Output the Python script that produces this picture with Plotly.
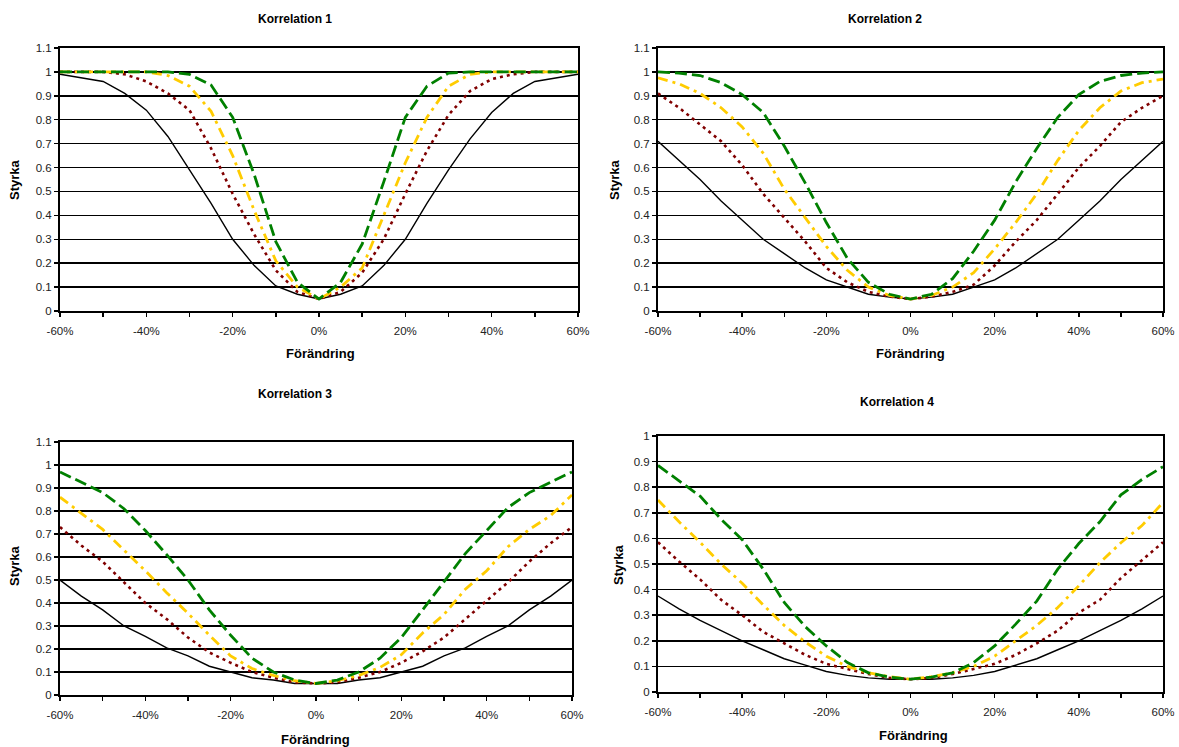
import plotly.graph_objects as go

# ---------------- data ----------------
x_change = [-60, -55, -50, -45, -40, -35, -30, -25, -20, -15, -10, -5, 0,
            5, 10, 15, 20, 25, 30, 35, 40, 45, 50, 55, 60]
x_tick_vals = [-60, -40, -20, 0, 20, 40, 60]
x_tick_text = ["-60%", "-40%", "-20%", "0%", "20%", "40%", "60%"]

panel_titles = ["Korrelation 1", "Korrelation 2", "Korrelation 3", "Korrelation 4"]
x_title = "Förändring"
y_title = "Styrka"

# Korrelation 1
k1_black = [0.99, 0.975, 0.96, 0.91, 0.84, 0.73, 0.59, 0.45, 0.30, 0.19, 0.105, 0.07, 0.05,
            0.07, 0.105, 0.19, 0.30, 0.45, 0.59, 0.72, 0.83, 0.91, 0.96, 0.975, 0.99]
k1_red = [1.0, 1.0, 1.0, 0.99, 0.96, 0.91, 0.84, 0.68, 0.49, 0.32, 0.17, 0.08, 0.05,
          0.08, 0.16, 0.30, 0.49, 0.67, 0.82, 0.92, 0.97, 0.99, 1.0, 1.0, 1.0]
k1_gold = [1.0, 1.0, 1.0, 1.0, 1.0, 0.985, 0.94, 0.835, 0.65, 0.42, 0.21, 0.10, 0.05,
           0.10, 0.18, 0.40, 0.62, 0.81, 0.94, 0.99, 1.0, 1.0, 1.0, 1.0, 1.0]
k1_green = [1.0, 1.0, 1.0, 1.0, 1.0, 1.0, 0.99, 0.945, 0.81, 0.57, 0.29, 0.12, 0.05,
            0.12, 0.28, 0.54, 0.81, 0.94, 0.995, 1.0, 1.0, 1.0, 1.0, 1.0, 1.0]

# Korrelation 2
k2_black = [0.71, 0.63, 0.55, 0.46, 0.38, 0.30, 0.24, 0.18, 0.13, 0.10, 0.07, 0.058, 0.05,
            0.058, 0.07, 0.10, 0.13, 0.18, 0.24, 0.30, 0.38, 0.46, 0.55, 0.63, 0.71]
k2_red = [0.91, 0.85, 0.78, 0.71, 0.61, 0.49, 0.39, 0.29, 0.18, 0.12, 0.08, 0.06, 0.05,
          0.06, 0.08, 0.11, 0.19, 0.29, 0.38, 0.49, 0.60, 0.69, 0.79, 0.85, 0.90]
k2_gold = [0.975, 0.95, 0.91, 0.85, 0.77, 0.66, 0.51, 0.39, 0.27, 0.17, 0.10, 0.065, 0.05,
           0.065, 0.10, 0.16, 0.26, 0.37, 0.49, 0.63, 0.755, 0.85, 0.92, 0.955, 0.97]
k2_green = [1.0, 0.995, 0.985, 0.955, 0.905, 0.83, 0.69, 0.535, 0.37, 0.22, 0.12, 0.07, 0.05,
            0.07, 0.135, 0.25, 0.38, 0.54, 0.68, 0.81, 0.905, 0.96, 0.985, 0.995, 1.0]

# Korrelation 3
k3_black = [0.50, 0.43, 0.37, 0.30, 0.255, 0.205, 0.17, 0.125, 0.10, 0.075, 0.065, 0.05, 0.05,
            0.05, 0.065, 0.075, 0.10, 0.125, 0.17, 0.205, 0.255, 0.30, 0.37, 0.43, 0.50]
k3_red = [0.73, 0.65, 0.58, 0.49, 0.40, 0.33, 0.25, 0.185, 0.14, 0.10, 0.075, 0.055, 0.05,
          0.055, 0.075, 0.10, 0.14, 0.19, 0.25, 0.33, 0.41, 0.49, 0.58, 0.66, 0.73]
k3_gold = [0.86, 0.79, 0.72, 0.63, 0.54, 0.445, 0.355, 0.26, 0.17, 0.115, 0.085, 0.062, 0.05,
           0.062, 0.085, 0.12, 0.175, 0.27, 0.35, 0.46, 0.54, 0.645, 0.72, 0.78, 0.87]
k3_green = [0.97, 0.925, 0.88, 0.81, 0.715, 0.61, 0.50, 0.37, 0.26, 0.16, 0.10, 0.065, 0.05,
            0.065, 0.10, 0.16, 0.25, 0.37, 0.49, 0.615, 0.715, 0.815, 0.88, 0.925, 0.97]

# Korrelation 4
k4_black = [0.375, 0.325, 0.28, 0.24, 0.20, 0.165, 0.13, 0.105, 0.08, 0.065, 0.055, 0.05, 0.05,
            0.05, 0.055, 0.065, 0.08, 0.105, 0.13, 0.165, 0.20, 0.24, 0.28, 0.325, 0.375]
k4_red = [0.585, 0.51, 0.44, 0.36, 0.30, 0.235, 0.19, 0.145, 0.11, 0.09, 0.07, 0.055, 0.05,
          0.055, 0.07, 0.09, 0.11, 0.145, 0.19, 0.24, 0.31, 0.36, 0.445, 0.515, 0.585]
k4_gold = [0.75, 0.665, 0.585, 0.50, 0.425, 0.34, 0.26, 0.195, 0.14, 0.10, 0.075, 0.06, 0.05,
           0.06, 0.075, 0.10, 0.14, 0.20, 0.26, 0.33, 0.415, 0.505, 0.583, 0.65, 0.74]
k4_green = [0.885, 0.825, 0.765, 0.675, 0.595, 0.48, 0.35, 0.255, 0.18, 0.115, 0.075, 0.058, 0.05,
            0.058, 0.075, 0.115, 0.18, 0.265, 0.355, 0.48, 0.58, 0.665, 0.77, 0.83, 0.88]

panels = [
    (k1_black, k1_red, k1_gold, k1_green),
    (k2_black, k2_red, k2_gold, k2_green),
    (k3_black, k3_red, k3_gold, k3_green),
    (k4_black, k4_red, k4_gold, k4_green),
]
y_max = [1.1, 1.1, 1.1, 1.0]

# ---------------- layout geometry (page pixels) ----------------
W, H = 1179, 747
# left, right, top(value y_max), bottom(value 0) in page pixels
boxes = [
    (60, 578, 48, 311),
    (658, 1163, 48, 311),
    (60, 572, 442, 695),
    (658, 1163, 436, 692),
]
title_pos = [(295, 19), (885, 19), (295, 394), (897, 402)]
xtitle_pos = [(320, 353), (910, 353), (315, 739), (913, 735)]
ytitle_pos = [(14, 180), (614, 180), (14, 566), (618, 565)]

styles = [
    dict(color="black", width=1.4, dash="solid"),
    dict(color="#800000", width=2.6, dash="3px,4px"),
    dict(color="#FFCC00", width=2.8, dash="10px,5px,3px,5px"),
    dict(color="#008000", width=2.8, dash="12px,5px"),
]

FONT = "Liberation Sans, Arial, sans-serif"


def fx(px):
    return px / W


def fy(py):
    return 1 - py / H


def ann(text, px, py, size, angle=0):
    return dict(text=text, x=fx(px), y=fy(py), xref="paper", yref="paper",
                xanchor="center", yanchor="middle", showarrow=False, textangle=angle,
                font=dict(family=FONT, size=size, color="black"))


fig = go.Figure()
annotations = []

for i, series in enumerate(panels):
    n = "" if i == 0 else str(i + 1)
    xa, ya = "x" + n, "y" + n
    for s, st in zip(series, styles):
        fig.add_trace(go.Scatter(x=x_change, y=s, xaxis=xa, yaxis=ya, mode="lines",
                                 line=st, showlegend=False, hoverinfo="skip"))
    l, r, t, b = boxes[i]
    fig.layout["xaxis" + n] = dict(
        domain=[fx(l), fx(r)], range=[-60, 60], anchor=ya,
        tickmode="array", tickvals=x_tick_vals, ticktext=x_tick_text,
        ticks="outside", ticklen=4, tickwidth=1.5, tickcolor="black",
        ticklabelstandoff=4,
        minor=dict(dtick=10, tick0=0, ticks="outside", ticklen=4, tickwidth=1.5,
                   tickcolor="black", showgrid=False),
        showgrid=False, zeroline=False, automargin=False,
        showline=True, linecolor="black", linewidth=2, mirror=True,
        tickfont=dict(family=FONT, size=11.5, color="#222"),
    )
    fig.layout["yaxis" + n] = dict(
        domain=[fy(b), fy(t)], range=[0, y_max[i]], anchor=xa, dtick=0.1, tick0=0,
        ticks="outside", ticklen=4, tickwidth=1.5, tickcolor="black",
        showgrid=True, gridcolor="black", gridwidth=1.5, zeroline=False, automargin=False,
        showline=True, linecolor="black", linewidth=2, mirror=True,
        tickfont=dict(family=FONT, size=11.5, color="#222"),
    )
    annotations.append(ann("<b>" + panel_titles[i] + "</b>", *title_pos[i], 12))
    annotations.append(ann("<b>" + x_title + "</b>", *xtitle_pos[i], 13))
    annotations.append(ann("<b>" + y_title + "</b>", *ytitle_pos[i], 13, -90))

fig.update_layout(
    width=W, height=H, margin=dict(l=0, r=0, t=0, b=0, pad=0, autoexpand=False),
    paper_bgcolor="white", plot_bgcolor="white",
    annotations=annotations, hovermode=False,
)

fig.write_html("out.html",
               config={"displayModeBar": False, "staticPlot": True},
               post_script="document.body.style.margin='0';"
                           "document.body.style.overflow='hidden';"
                           "document.documentElement.style.overflow='hidden';")
